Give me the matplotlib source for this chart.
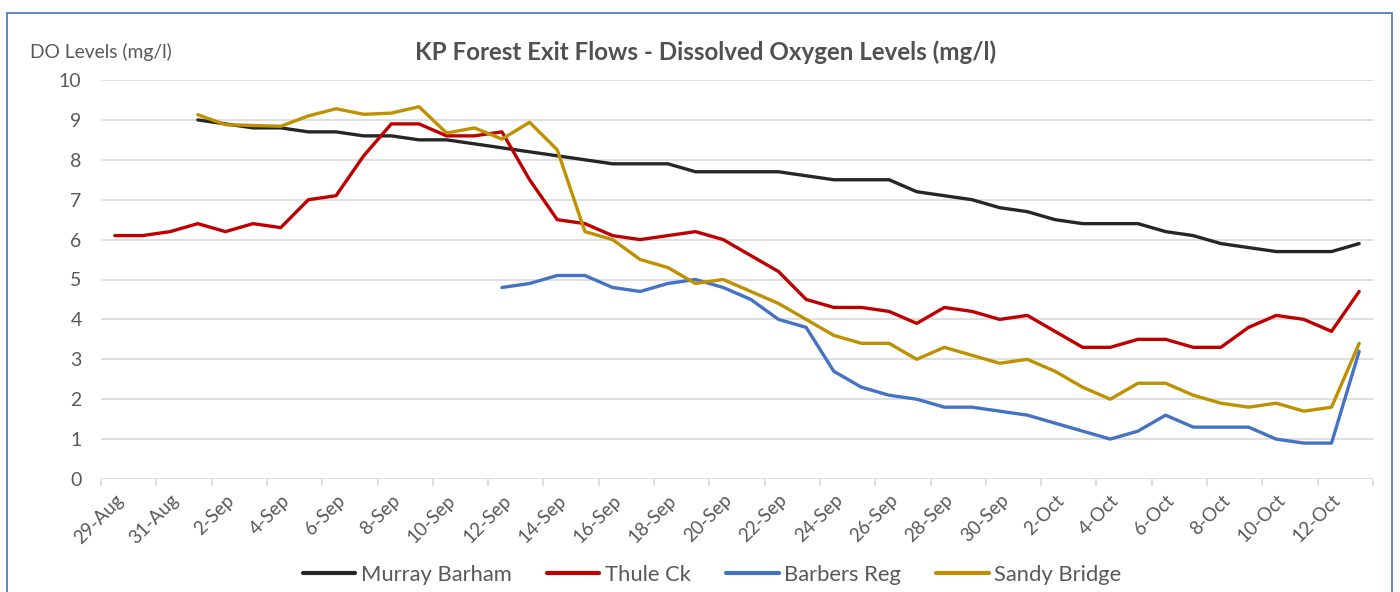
import matplotlib
matplotlib.use("Agg")
import matplotlib.pyplot as plt
import numpy as np
import pandas as pd
from matplotlib.patches import Rectangle

plt.rcParams['font.family'] = ['Lato', 'DejaVu Sans']

dates = pd.date_range("2023-08-29", "2023-10-13", freq="D")

murray_barham = [None, None, None, 9.0, 8.9, 8.8, 8.8, 8.7, 8.7, 8.6,
                 8.6, 8.5, 8.5, 8.4, 8.3, 8.2, 8.1, 8.0, 7.9, 7.9,
                 7.9, 7.7, 7.7, 7.7, 7.7, 7.6, 7.5, 7.5, 7.5, 7.2,
                 7.1, 7.0, 6.8, 6.7, 6.5, 6.4, 6.4, 6.4, 6.2, 6.1,
                 5.9, 5.8, 5.7, 5.7, 5.7, 5.9]
thule_ck = [6.1, 6.1, 6.2, 6.4, 6.2, 6.4, 6.3, 7.0, 7.1, 8.1,
            8.9, 8.9, 8.6, 8.6, 8.7, 7.5, 6.5, 6.4, 6.1, 6.0,
            6.1, 6.2, 6.0, 5.6, 5.2, 4.5, 4.3, 4.3, 4.2, 3.9,
            4.3, 4.2, 4.0, 4.1, 3.7, 3.3, 3.3, 3.5, 3.5, 3.3,
            3.3, 3.8, 4.1, 4.0, 3.7, 4.7]
barbers_reg = [None] * 14 + [4.8, 4.9, 5.1, 5.1, 4.8, 4.7,
               4.9, 5.0, 4.8, 4.5, 4.0, 3.8, 2.7, 2.3, 2.1, 2.0,
               1.8, 1.8, 1.7, 1.6, 1.4, 1.2, 1.0, 1.2, 1.6, 1.3,
               1.3, 1.3, 1.0, 0.9, 0.9, 3.2]
sandy_bridge = [None, None, None, 9.13, 8.88, 8.86, 8.84, 9.1, 9.28, 9.14,
                9.17, 9.33, 8.67, 8.8, 8.52, 8.94, 8.25, 6.2, 6.0, 5.5,
                5.3, 4.9, 5.0, 4.7, 4.4, 4.0, 3.6, 3.4, 3.4, 3.0,
                3.3, 3.1, 2.9, 3.0, 2.7, 2.3, 2.0, 2.4, 2.4, 2.1,
                1.9, 1.8, 1.9, 1.7, 1.8, 3.4]

series_names = ["Murray Barham", "Thule Ck", "Barbers Reg", "Sandy Bridge"]
series_values = [murray_barham, thule_ck, barbers_reg, sandy_bridge]
series_colors = ["#262626", "#C00000", "#4472C4", "#BF9000"]

W, H = 1400, 592
fig = plt.figure(figsize=(W / 100, H / 100), dpi=100)
ax = fig.add_axes([101 / W, 1 - 479 / H, (1373 - 101) / W, (479 - 80) / H])

xpos = dates + pd.Timedelta(hours=12)
for name, vals, col in zip(series_names, series_values, series_colors):
    y = np.array([np.nan if v is None else v for v in vals], dtype=float)
    ax.plot(xpos, y, color=col, lw=2.4, label=name, solid_joinstyle='round',
            solid_capstyle='round')

ax.set_xlim(dates[0], dates[-1] + pd.Timedelta(days=1))
ax.set_ylim(0, 10)
ax.set_yticks(range(0, 11))
ax.grid(axis='y', color='#D9D9D9', lw=1.2)
ax.set_axisbelow(True)
for s in ax.spines.values():
    s.set_visible(False)

label_dates = dates[::2]
ax.set_xticks(label_dates + pd.Timedelta(hours=12))
ax.set_xticklabels([d.strftime("%-d-%b") for d in label_dates],
                   rotation=45, ha='right', va='top', rotation_mode='anchor',
                   fontsize=13.5, color='#595959')
ax.tick_params(axis='x', length=0, pad=9)
ax.tick_params(axis='y', length=0, labelsize=14, labelcolor='#595959', pad=14)
boundary = list(dates[::2]) + [dates[-1] + pd.Timedelta(days=1)]
ax.set_xticks(boundary, minor=True)
ax.tick_params(axis='x', which='minor', length=5, color='#D9D9D9', width=1.2)

fig.text(706 / W, 1 - 52 / H, "KP Forest Exit Flows - Dissolved Oxygen Levels (mg/l)",
         ha='center', va='center', fontsize=17.4, fontweight='bold', color='#505050')
fig.text(30 / W, 1 - 52 / H, "DO Levels (mg/l)", ha='left', va='center',
         fontsize=13.9, color='#595959')

leg = fig.legend(loc='center', bbox_to_anchor=(712 / W, 1 - 575 / H), ncol=4,
                 frameon=False, fontsize=15.8, handlelength=2.4, handletextpad=0.25,
                 columnspacing=1.6)
for t in leg.get_texts():
    t.set_color('#595959')
for l in leg.get_lines():
    l.set_linewidth(3)

fig.patches.append(Rectangle((7 / W, -0.05), (1392 - 7) / W, 1 - 13 / H + 0.05,
                             transform=fig.transFigure, fill=False,
                             edgecolor='#4472C4', lw=1.2))

fig.savefig("out.png", dpi=100)
